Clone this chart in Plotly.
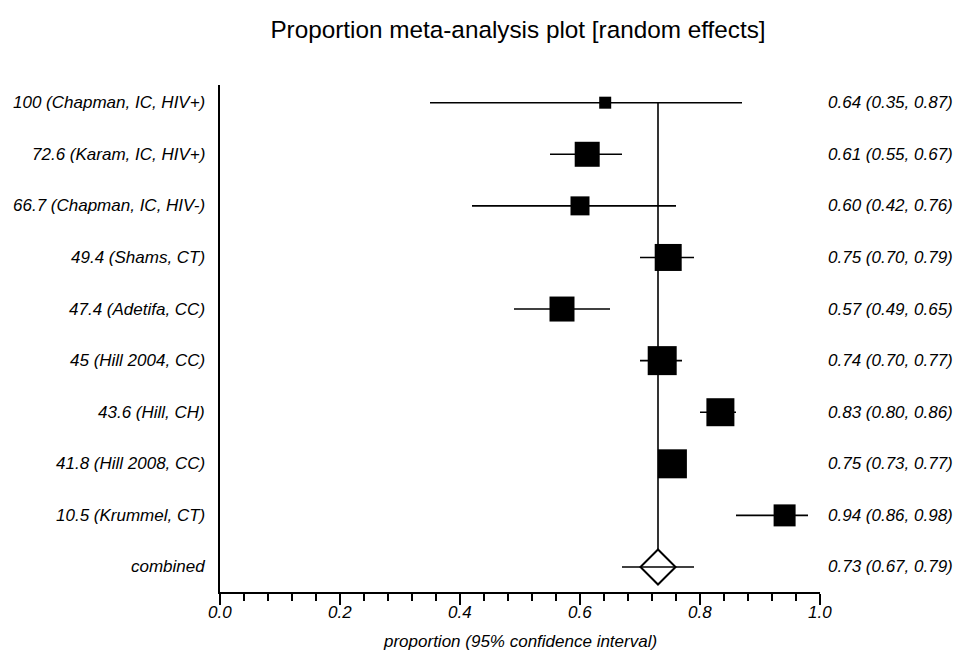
import plotly.graph_objects as go

# ---- data ----
study_labels = ["100 (Chapman, IC, HIV+)", "72.6 (Karam, IC, HIV+)", "66.7 (Chapman, IC, HIV-)",
                "49.4 (Shams, CT)", "47.4 (Adetifa, CC)", "45 (Hill 2004, CC)", "43.6 (Hill, CH)",
                "41.8 (Hill 2008, CC)", "10.5 (Krummel, CT)"]
proportion = [0.642, 0.612, 0.600, 0.747, 0.570, 0.737, 0.834, 0.754, 0.941]
ci_low = [0.35, 0.55, 0.42, 0.70, 0.49, 0.70, 0.80, 0.73, 0.86]
ci_high = [0.87, 0.67, 0.76, 0.79, 0.65, 0.77, 0.86, 0.77, 0.98]
ci_text = ["0.64 (0.35, 0.87)", "0.61 (0.55, 0.67)", "0.60 (0.42, 0.76)", "0.75 (0.70, 0.79)",
           "0.57 (0.49, 0.65)", "0.74 (0.70, 0.77)", "0.83 (0.80, 0.86)", "0.75 (0.73, 0.77)",
           "0.94 (0.86, 0.98)"]
combined_label = "combined"
combined_est = 0.73
combined_low = 0.67
combined_high = 0.79
combined_text = "0.73 (0.67, 0.79)"
x_ticks = [0.0, 0.2, 0.4, 0.6, 0.8, 1.0]
# square sizes (study weights, in px)
weights_px = [12, 25, 19, 27, 25, 29, 28, 29, 22]

FONT = "Liberation Sans, Arial, sans-serif"
n = len(study_labels)
rows = list(range(n))
comb_row = n

fig = go.Figure()

# reference line at combined estimate
fig.add_shape(type="line", xref="x", yref="y", x0=combined_est, x1=combined_est,
              y0=0, y1=comb_row, line=dict(color="black", width=1.6), layer="below")

# study CI lines
ci_x, ci_y = [], []
for r, lo, hi in zip(rows, ci_low, ci_high):
    ci_x += [lo, hi, None]
    ci_y += [r, r, None]
fig.add_trace(go.Scatter(x=ci_x, y=ci_y, mode="lines", line=dict(color="black", width=1.6),
                         showlegend=False, hoverinfo="skip"))

# study squares
fig.add_trace(go.Scatter(
    x=proportion, y=rows, mode="markers",
    marker=dict(symbol="square", size=weights_px, color="black", opacity=1,
                line=dict(width=0)),
    showlegend=False, hoverinfo="skip"))

# combined diamond + CI line through it
fig.add_trace(go.Scatter(
    x=[combined_est], y=[comb_row], mode="markers",
    marker=dict(symbol="diamond", size=27, color="white", opacity=1,
                line=dict(color="black", width=2)),
    showlegend=False, hoverinfo="skip"))
fig.add_trace(go.Scatter(
    x=[combined_low, combined_high], y=[comb_row, comb_row], mode="lines",
    line=dict(color="black", width=1.6), showlegend=False, hoverinfo="skip"))

# labels
LBL = dict(family=FONT, size=17, color="black", style="italic")
ann = []
for i, (lab, txt) in enumerate(zip(study_labels + [combined_label], ci_text + [combined_text])):
    ann.append(dict(x=-13 / 600, y=i, xref="paper", yref="y", text=lab, showarrow=False,
                    xanchor="right", yanchor="middle", font=LBL))
    ann.append(dict(x=1.225, y=i, xref="paper", yref="y", text=txt, showarrow=False,
                    xanchor="right", yanchor="middle", font=LBL))
for v in x_ticks:
    ann.append(dict(x=v, y=-20 / 507, xref="x", yref="paper", text=f"{v:.1f}",
                    showarrow=False, xanchor="center", yanchor="middle", font=LBL))
ann.append(dict(x=0.5, y=-49 / 507, xref="paper", yref="paper",
                text="proportion (95% confidence interval)", showarrow=False,
                xanchor="center", yanchor="middle",
                font=dict(family=FONT, size=17, color="black", style="italic")))

fig.update_layout(
    width=957, height=655,
    margin=dict(l=220, r=137, t=85, b=63),
    paper_bgcolor="white", plot_bgcolor="white",
    title=dict(text="Proportion meta-analysis plot [random effects]",
               x=518 / 957, xanchor="center", y=1 - 29 / 655, yanchor="middle",
               font=dict(family=FONT, size=24.3, color="black")),
    annotations=ann,
    xaxis=dict(range=[0, 1], showgrid=False, zeroline=False, showline=True,
               linecolor="black", linewidth=2, ticks="outside", ticklen=11, tickwidth=2,
               tickcolor="black", tickvals=x_ticks, showticklabels=False,
               minor=dict(tickvals=[i * 0.04 for i in range(26)], ticks="outside",
                          ticklen=7, tickwidth=2, tickcolor="black", showgrid=False),
               fixedrange=True),
    yaxis=dict(range=[n + 0.485, -0.343], showgrid=False, zeroline=False, showline=True,
               linecolor="black", linewidth=2, showticklabels=False, ticks="",
               fixedrange=True),
)

fig.write_html("out.html")
